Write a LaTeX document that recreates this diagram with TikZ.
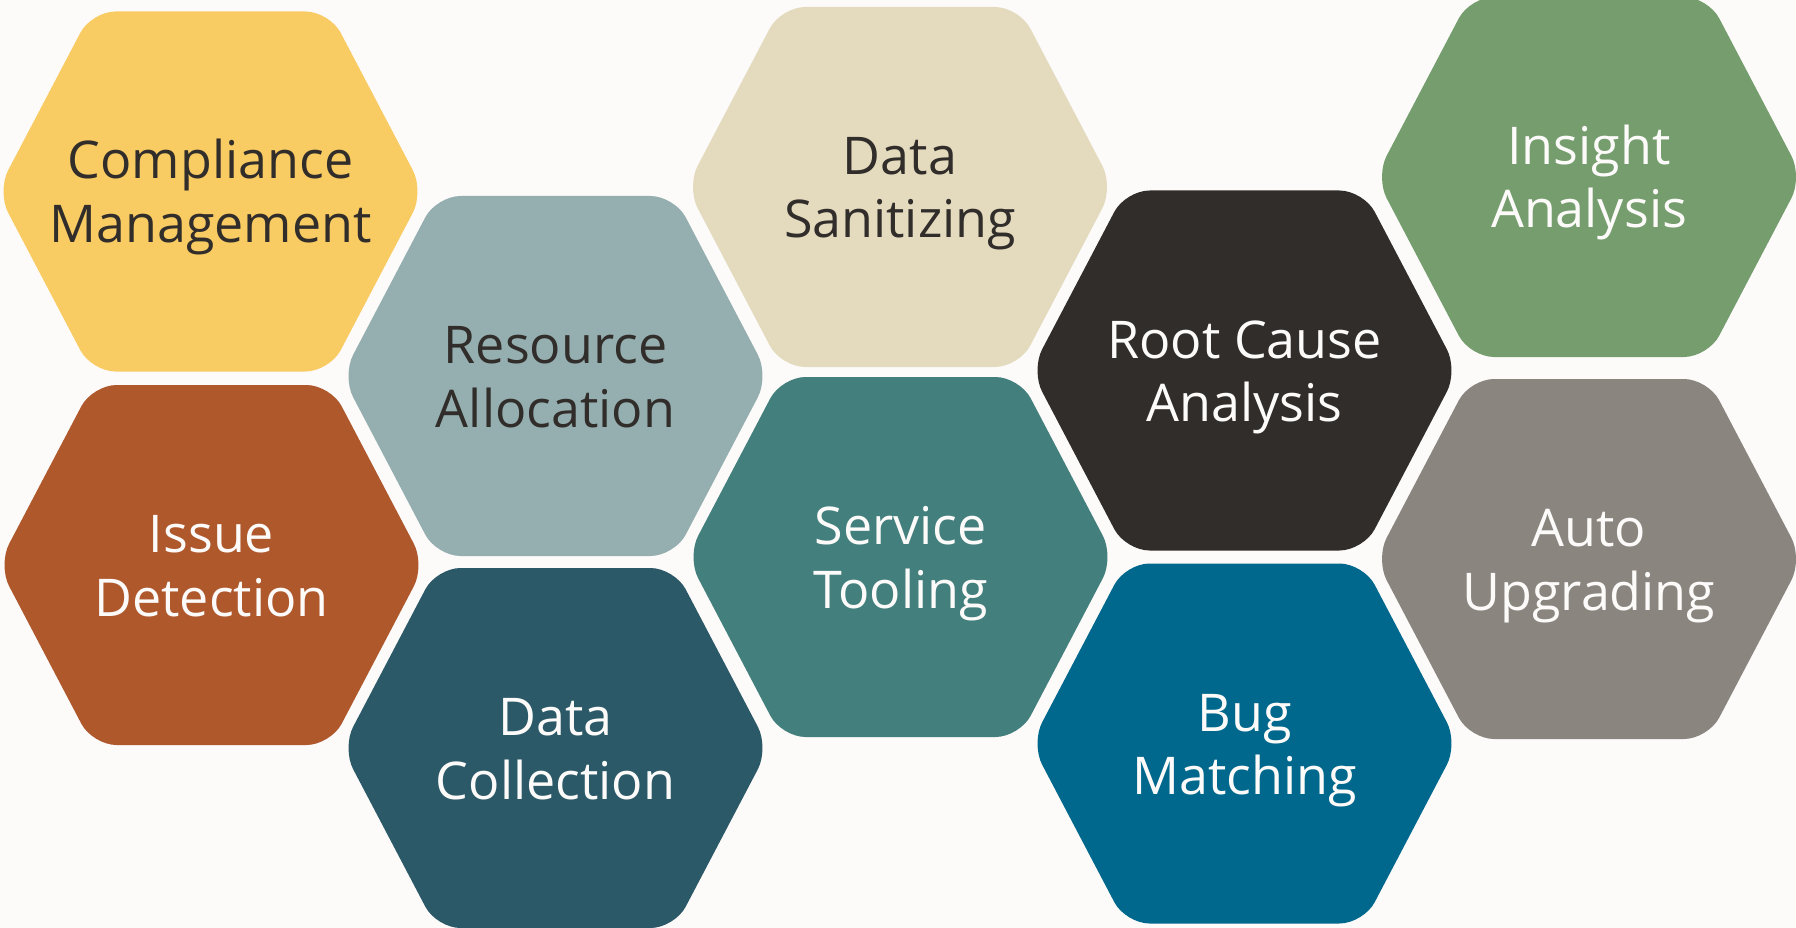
\documentclass[tikz,border=0pt]{standalone}
\usepackage{fontspec}
\setmainfont{Open Sans}
\definecolor{bgc}{HTML}{FCFBFA}
\definecolor{ctext}{HTML}{312D2A}
\definecolor{cwhite}{HTML}{FCFBFA}
\definecolor{cyellow}{HTML}{F9CB63}
\definecolor{cresource}{HTML}{95AFB0}
\definecolor{csanit}{HTML}{E4DBBF}
\definecolor{croot}{HTML}{312D2A}
\definecolor{cinsight}{HTML}{759D6D}
\definecolor{cissue}{HTML}{AE582C}
\definecolor{ccollect}{HTML}{2C5967}
\definecolor{cservice}{HTML}{437F7D}
\definecolor{cbug}{HTML}{00688C}
\definecolor{cauto}{HTML}{8A857F}
\newcommand{\hexcell}[7]{%
  \fill[#4, rounded corners=24pt]
    (#2,#3-180) -- (#2+119,#3-180) -- (#2+213.5,#3) -- (#2+119,#3+180)
    -- (#2-119,#3+180) -- (#2-213.5,#3) -- (#2-119,#3-180) -- cycle;
  \node[hexlabel, text=#5] (#1) at (#2,#3-12.5)
    {\begin{tabular}[t]{@{}c@{}}#6\\#7\end{tabular}};
}
\begin{document}
\begin{tikzpicture}[x=1pt,y=-1pt,
  hexlabel/.style={inner sep=0pt, anchor=base,
    font=\fontsize{52}{63.5}\selectfont}]
\useasboundingbox (0,0) rectangle (1796,928);
\fill[bgc] (0,0) rectangle (1796,928);
\hexcell{compliance}{210.5}{191.5}{cyellow}{ctext}{Compliance}{Management}
\hexcell{issue}{211.5}{565}{cissue}{cwhite}{Issue}{Detection}
\hexcell{resource}{555.5}{376}{cresource}{ctext}{Resource}{Allocation}
\hexcell{collection}{555.5}{748}{ccollect}{cwhite}{Data}{Collection}
\hexcell{sanitizing}{900}{187}{csanit}{ctext}{Data}{Sanitizing}
\hexcell{service}{900.5}{557}{cservice}{cwhite}{Service}{Tooling}
\hexcell{rootcause}{1244.5}{370.5}{croot}{cwhite}{Root Cause}{Analysis}
\hexcell{bug}{1244.5}{743.5}{cbug}{cwhite}{Bug}{Matching}
\hexcell{insight}{1589}{177}{cinsight}{cwhite}{Insight}{Analysis}
\hexcell{auto}{1589}{559}{cauto}{cwhite}{Auto}{Upgrading}
\end{tikzpicture}
\end{document}
